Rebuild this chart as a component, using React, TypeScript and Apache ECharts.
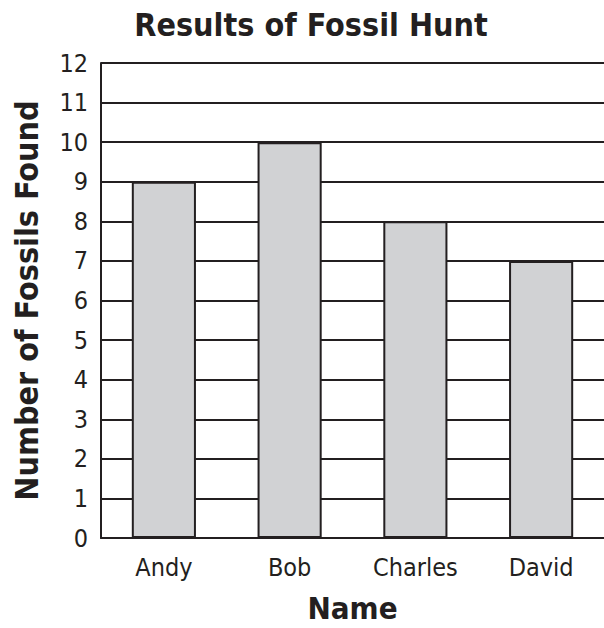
import React, { useEffect, useRef } from "react";
import * as echarts from "echarts";

const categories = ["Andy", "Bob", "Charles", "David"];
const fossils = [9, 10, 8, 7];
const yMin = 0;
const yMax = 12;
const yInterval = 1;

const FONT = "'DejaVu Sans Condensed', 'DejaVu Sans', Verdana, sans-serif";
const INK = "#231f20";

export default function App() {
  const ref = useRef<HTMLDivElement>(null);
  useEffect(() => {
    document.body.style.margin = "0";
    const chart = echarts.init(ref.current!, null, { renderer: "svg" });
    chart.setOption({
      animation: false,
      backgroundColor: "#ffffff",
      title: {
        text: "Results of Fossil Hunt",
        left: 306,
        textAlign: "center",
        top: 4,
        textStyle: { fontFamily: FONT, fontWeight: "bold", fontSize: 32, color: INK },
      },
      grid: { left: 101, right: 0, top: 63, bottom: 86, containLabel: false },
      xAxis: {
        type: "category",
        data: categories,
        name: "Name",
        nameLocation: "middle",
        nameGap: 54,
        nameTextStyle: { fontFamily: FONT, fontWeight: "bold", fontSize: 31, color: INK },
        axisLine: { show: true, lineStyle: { color: INK, width: 2 } },
        axisTick: { show: false },
        axisLabel: { fontFamily: FONT, fontSize: 25, color: INK, margin: 17 },
      },
      yAxis: {
        type: "value",
        min: yMin,
        max: yMax,
        interval: yInterval,
        name: "Number of Fossils Found",
        nameLocation: "middle",
        nameGap: 58,
        nameTextStyle: { fontFamily: FONT, fontWeight: "bold", fontSize: 32, color: INK },
        axisLine: { show: true, lineStyle: { color: INK, width: 2 } },
        axisTick: { show: false },
        axisLabel: { fontFamily: FONT, fontSize: 25, color: INK, margin: 13 },
        splitLine: { show: true, lineStyle: { color: INK, width: 2 } },
      },
      series: [
        {
          type: "bar",
          data: fossils,
          barWidth: "51%",
          itemStyle: { color: "#d1d2d4", borderColor: INK, borderWidth: 2 },
        },
      ],
    });
    return () => chart.dispose();
  }, []);
  return <div ref={ref} style={{ width: 604, height: 628 }} />;
}
